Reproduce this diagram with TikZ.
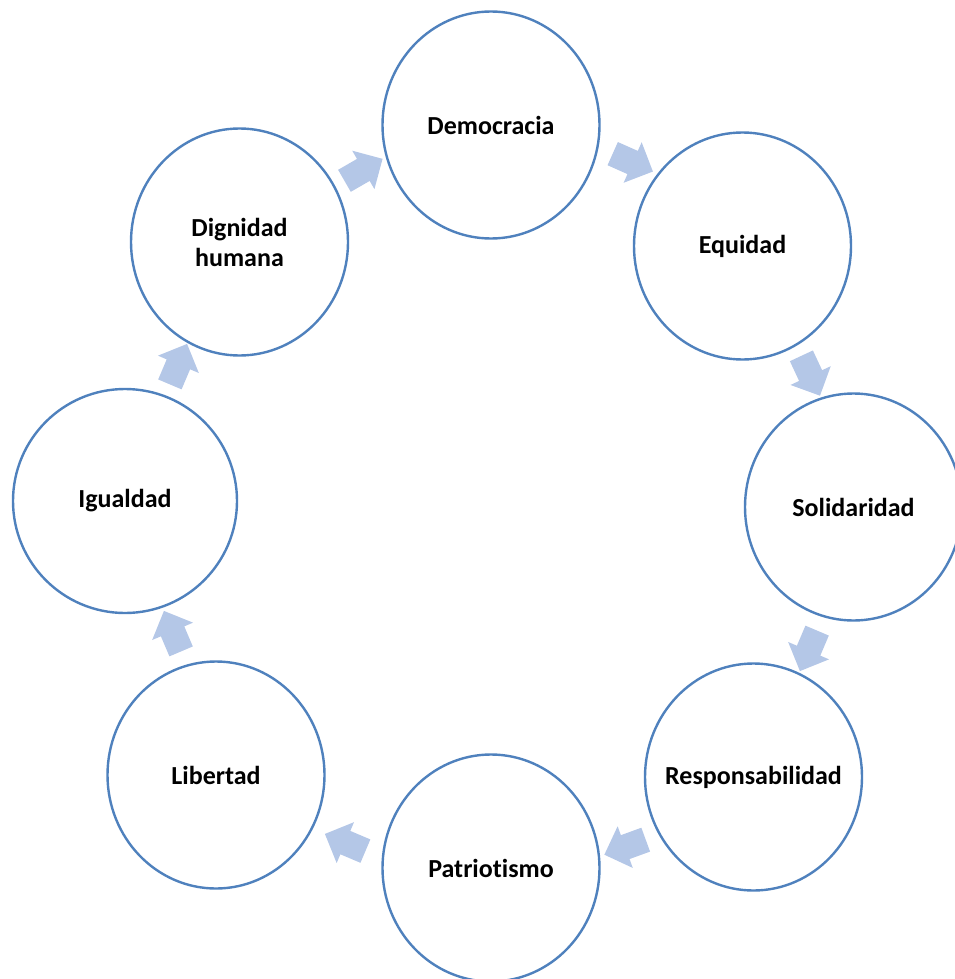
\documentclass[tikz,border=0pt]{standalone}
\usepackage{fontspec}
\setsansfont{Carlito}[Ligatures=NoCommon]
\usepackage{tikz}
\usetikzlibrary{shapes.geometric,shapes.arrows}
\definecolor{borde}{RGB}{79,129,189}
\definecolor{relleno}{RGB}{180,199,231}
\tikzset{
  valor/.style={draw=borde, line width=2.4pt, ellipse, fill=white,
    minimum width=217pt, minimum height=227pt, align=center,
    inner xsep=-25pt, inner ysep=0pt,
    font=\sffamily\bfseries\fontsize{26}{30}\selectfont},
  flecha/.style={single arrow, fill=relleno, draw=none,
    inner xsep=0pt, inner ysep=12.5pt,
    minimum height=44pt, single arrow head extend=9.5pt},
}

\begin{document}
\begin{tikzpicture}[x=1pt, y=-1pt]
  \useasboundingbox (0,0) rectangle (954,979);

  % valores del ciclo
  \node[valor] (demo) at (491,125)   {Democracia};
  \node[valor] (equi) at (742.5,246) {Equidad};
  \node[valor] (soli) at (853.5,507) {Solidaridad};
  \node[valor] (resp) at (753.5,777) {Responsabilidad};
  \node[valor] (patr) at (491,868)   {Patriotismo};
  \node[valor] (libe) at (216,775)   {Libertad};
  \node[valor, minimum width=224pt, minimum height=224pt] (igua) at (125,501) {Igualdad};
  \node[valor] (dign) at (239.5,242) {Dignidad\\humana};

  % flechas entre valores
  \node[flecha, rotate=30]   (f1) at (358,173) {};
  \node[flecha, rotate=-24]  (f2) at (627,160) {};
  \node[flecha, rotate=-65]  (f3) at (808,370) {};
  \node[flecha, rotate=-113] (f4) at (811,645) {};
  \node[flecha, rotate=-160] (f5) at (631,845) {};
  \node[flecha, rotate=157]  (f6) at (351,845) {};
  \node[flecha, rotate=113]  (f7) at (175,637) {};
  \node[flecha, rotate=67]   (f8) at (176,370) {};
\end{tikzpicture}
\end{document}
